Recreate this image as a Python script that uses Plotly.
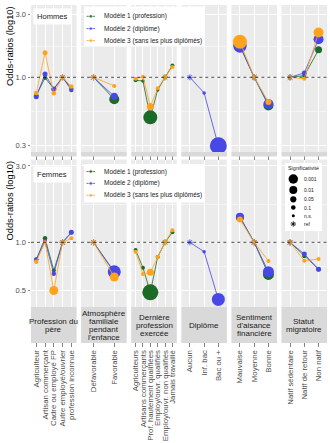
import plotly.graph_objects as go

W, H = 330, 443

PANELS = ["Profession du<br>père", "Atmosphère<br>familiale<br>pendant<br>l'enfance",
          "Dernière<br>profession<br>exercée", "Diplôme",
          "Sentiment<br>d'aisance<br>financière", "Statut<br>migratoire"]

CATS = [
    ["Agriculteur", "Artisan commerçant", "Cadre ou employé FP", "Autre employé/ouvrier", "profession inconnue"],
    ["Défavorable", "Favorable"],
    ["Agriculteurs", "Artisans commerçants", "Prof. hautement qualifiées", "Employ/ouvr. qualifiés",
     "Employ/ouvr. non qualifiés", "Jamais travaillé"],
    ["Aucun", "Inf. bac", "Bac ou +"],
    ["Mauvaise", "Moyenne", "Bonne"],
    ["Natif sédentaire", "Natif de retour", "Non natif"],
]

MODELS = ["Modèle 1 (profession)", "Modèle 2 (diplôme)", "Modèle 3 (sans les plus diplômés)"]
COLORS = ["#1B6B26", "#4848E6", "#FFA21C"]

# Odds ratios - Hommes (None = model not estimated for this block)
HOM_M1 = [[0.73, 0.99, 0.82, 1.00, 0.82], [1.00, 0.68], [0.95, 0.937, 0.495, 0.80, 1.00, 1.23], None,
          [1.75, 1.00, 0.61], [1.00, 1.03, 1.62]]
HOM_M2 = [[0.71, 1.06, 0.81, 1.00, 0.80], [1.00, 0.716], None, [1.00, 0.76, 0.30],
          [1.73, 1.00, 0.625], [1.00, 1.08, 1.95]]
HOM_M3 = [[0.76, 1.54, 0.755, 1.00, 0.85], [1.00, 0.86], [0.975, 1.01, 0.60, 0.824, 1.00, 1.20], None,
          [1.87, 1.00, 0.647], [1.00, 0.975, 2.20]]
# Significance score (larger = more significant), None = reference category
HOM_S1 = [[2, 1.5, 1.5, None, 1.5], [None, 7.5], [1.5, 1, 11.5, 1, None, 1.5], None,
          [10.5, None, 7.5], [None, 1.5, 4.5]]
HOM_S2 = [[2.5, 2.5, 2.5, None, 2], [None, 4.5], None, [None, 1, 14.5],
          [10.5, None, 7.5], [None, 2.5, 7.5]]
HOM_S3 = [[2, 2.5, 2, None, 2], [None, 1.5], [1.5, 1.5, 4.5, 1.5, None, 1.5], None,
          [11.5, None, 3.5], [None, 1.5, 7.5]]

# Odds ratios - Femmes
FEM_M1 = [[0.78, 1.06, 0.668, 1.00, 1.15], [1.00, 0.65], [0.895, 0.694, 0.487, 0.81, 1.00, 1.155], None,
          [1.43, 1.00, 0.63], [1.00, 0.82, 0.68]]
FEM_M2 = [[0.78, 1.02, 0.637, 1.00, 1.155], [1.00, 0.655], None, [1.00, 0.874, 0.44],
          [1.445, 1.00, 0.655], [1.00, 0.845, 0.678]]
FEM_M3 = [[0.757, 1.00, 0.50, 1.00, 1.06], [1.00, 0.607], [0.874, 0.634, 0.65, 0.81, 1.00, 1.19], None,
          [1.39, 1.00, 0.764], [1.00, 0.767, 0.787]]
FEM_S1 = [[1.5, 2, 1.5, None, 1.5], [None, 9.5], [1.5, 1.5, 13.5, 1.5, None, 1.5], None,
          [5.5, None, 8.5], [None, 1.5, 2]]
FEM_S2 = [[2, 1.5, 2, None, 2.5], [None, 10.5], None, [None, 1, 10.5],
          [5.5, None, 8.5], [None, 2.5, 2.5]]
FEM_S3 = [[2, 1.5, 6.5, None, 1.5], [None, 6.5], [1.5, 1.5, 4.5, 1.5, None, 1.5], None,
          [3.5, None, 1.5], [None, 1.5, 1.5]]

ROW_LABELS = ["Hommes", "Femmes"]
SIG_LABELS = ["0.001", "0.01", "0.05", "0.1", "n.s.", "ref"]
SIG_SIZES = [9.5, 8, 6.2, 4.6, 3, 4.5]

VALS = [[HOM_M1, HOM_M2, HOM_M3], [FEM_M1, FEM_M2, FEM_M3]]
SIGS = [[HOM_S1, HOM_S2, HOM_S3], [FEM_S1, FEM_S2, FEM_S3]]

FONT = "Liberation Sans, Arial, sans-serif"
TXT = "#1A1A1A"
TICKC = "#4D4D4D"

# ---------- layout geometry (pixels) ----------
PX0, PW, PSTEP = 31.0, 45.6, 50.1
ROWS = [
    dict(top=5.0, bot=152.0, rng=[-0.570, 0.552], ticks=[0.3, 1, 3], txt=["0.3", "1.0", "3.0"],
         minor=[0.548, 1.732], strip=(152.0, 156.5), ticklen=6.5),
    dict(top=159.5, bot=307.0, rng=[-0.404, 0.5175], ticks=[0.5, 1, 3], txt=["0.5", "1.0", "3.0"],
         minor=[0.707, 1.732], strip=(307.0, 343.0), ticklen=39),
]


def fy(p):
    return 1 - p / H


def fx(p):
    return p / W


fig = go.Figure()
layout = dict(width=W, height=H, margin=dict(l=0, r=0, t=0, b=0), paper_bgcolor="white",
              plot_bgcolor="rgba(0,0,0,0)", showlegend=False, font=dict(family=FONT, color=TXT))
shapes = []
annotations = []


def aid(k):
    return "" if k == 1 else str(k)


for r, row in enumerate(ROWS):
    lo, hi = row["rng"]
    d0, d1 = fy(row["bot"]), fy(row["top"])
    y_ref = d0 + (0 - lo) / (hi - lo) * (d1 - d0)   # paper position of OR = 1 (log10 = 0)
    for c in range(6):
        k = r * 6 + c + 1
        x0 = PX0 + c * PSTEP
        n = len(CATS[c])
        layout["xaxis" + aid(k)] = dict(
            domain=[fx(x0), fx(x0 + PW)], anchor="y" + aid(k), type="category",
            categoryorder="array", categoryarray=CATS[c], range=[-0.6, n - 0.4],
            tickmode="array", tickvals=CATS[c], ticktext=CATS[c],
            showgrid=True, gridcolor="white", gridwidth=1, zeroline=False, showline=False,
            ticks="outside", ticklen=row["ticklen"], tickwidth=0.6, tickcolor="#333333",
            showticklabels=(r == 1), tickangle=-90, tickfont=dict(size=7.8, color=TICKC, family=FONT),
            fixedrange=True)
        layout["yaxis" + aid(k)] = dict(
            domain=[d0, d1], anchor="x" + aid(k), type="log",
            range=row["rng"], tickmode="array", tickvals=row["ticks"], ticktext=row["txt"],
            showgrid=True, gridcolor="white", gridwidth=1, zeroline=False, showline=False,
            minor=dict(tickmode="array", tickvals=row["minor"], showgrid=True, gridcolor="white",
                       gridwidth=0.5, ticks=""),
            ticks="outside" if c == 0 else "", ticklen=2.5, tickwidth=0.6, tickcolor="#333333",
            showticklabels=(c == 0), tickfont=dict(size=7.5, color=TICKC, family=FONT),
            fixedrange=True)
        # panel background (paper coords, lowest layer)
        shapes.append(dict(type="rect", xref="paper", yref="paper", x0=fx(x0), x1=fx(x0 + PW),
                           y0=d0, y1=d1, fillcolor="#EBEBEB",
                           line=dict(width=0), layer="below"))
        # reference line at OR = 1
        shapes.append(dict(type="line", xref="paper", yref="paper",
                           x0=fx(x0), x1=fx(x0 + PW), y0=y_ref, y1=y_ref,
                           line=dict(color="black", width=0.7, dash="3px,3px"), layer="above"))
        # strip
        s0, s1 = row["strip"]
        shapes.append(dict(type="rect", xref="paper", yref="paper", x0=fx(x0), x1=fx(x0 + PW),
                           y0=fy(s1), y1=fy(s0), fillcolor="#D9D9D9", line=dict(width=0), layer="above"))

# ---------- data traces ----------
for m in range(3):
    for r in range(2):
        for c in range(6):
            v = VALS[r][m][c]
            if v is None:
                continue
            s = SIGS[r][m][c]
            k = r * 6 + c + 1
            sizes = [5 if si is None else 2.5 + si for si in s]
            symbols = ["asterisk-open" if si is None else "circle" for si in s]
            lws = [0.9 if si is None else 0 for si in s]
            fig.add_trace(go.Scatter(
                x=CATS[c], y=v, xaxis="x" + aid(k), yaxis="y" + aid(k), mode="lines+markers",
                line=dict(color=COLORS[m], width=0.8),
                marker=dict(size=sizes, symbol=symbols, color=COLORS[m],
                            line=dict(width=lws, color=COLORS[m]), opacity=1),
                hoverinfo="skip", name=MODELS[m]))

# ---------- overlay axes in pixel coordinates for legends ----------
layout["xaxis13"] = dict(domain=[0, 1], range=[0, W], visible=False, fixedrange=True, anchor="y13")
layout["yaxis13"] = dict(domain=[0, 1], range=[H, 0], visible=False, fixedrange=True, anchor="x13")


def box(x0, x1, y0, y1):
    fig.add_trace(go.Scatter(x=[x0, x1, x1, x0, x0], y=[y0, y0, y1, y1, y0], fill="toself",
                             fillcolor="white", mode="lines", line=dict(width=0, color="white"),
                             xaxis="x13", yaxis="y13", hoverinfo="skip"))


for r, (by0, by1, ys) in enumerate([(6.5, 46.0, [16.3, 28.6, 40.6]), (164.0, 202.5, [171.5, 183.4, 195.3])]):
    box(84.0, 204.5, by0, by1)
    for m in range(3):
        fig.add_trace(go.Scatter(x=[86.5, 90.8, 95.0], y=[ys[m]] * 3, mode="lines+markers",
                                 line=dict(color=COLORS[m], width=0.8),
                                 marker=dict(size=[0, 3.8, 0], color=COLORS[m]),
                                 xaxis="x13", yaxis="y13", hoverinfo="skip"))
        annotations.append(dict(x=101.5, y=ys[m], xref="x13", yref="y13", text=MODELS[m], showarrow=False,
                                xanchor="left", yanchor="middle", font=dict(size=6.5, color=TXT, family=FONT)))

# significance legend
box(285.0, 322.0, 163.0, 231.0)
annotations.append(dict(x=303.5, y=168.0, xref="x13", yref="y13", text="Significativité", showarrow=False,
                        xanchor="center", yanchor="middle", font=dict(size=5.3, color=TXT, family=FONT)))
sig_y = [179.0, 190.0, 199.3, 207.5, 215.8, 224.0]
for i, lab in enumerate(SIG_LABELS):
    sym = "asterisk-open" if lab == "ref" else "circle"
    fig.add_trace(go.Scatter(x=[293.3], y=[sig_y[i]], mode="markers",
                             marker=dict(size=SIG_SIZES[i], symbol=sym, color="black",
                                         line=dict(width=0.8 if lab == "ref" else 0, color="black")),
                             xaxis="x13", yaxis="y13", hoverinfo="skip"))
    annotations.append(dict(x=301.5, y=sig_y[i], xref="x13", yref="y13", text=lab, showarrow=False,
                            xanchor="left", yanchor="middle", font=dict(size=5, color=TXT, family=FONT)))

# row labels
for r, (cx, cy) in enumerate([(52.5, 16.3), (52.3, 174.5)]):
    annotations.append(dict(x=cx, y=cy, xref="x13", yref="y13", text=ROW_LABELS[r], showarrow=False,
                            xanchor="center", yanchor="middle", bgcolor="white", borderpad=3,
                            font=dict(size=7.6, color=TXT, family=FONT)))

# y axis titles
for cy in [46.5, 201.0]:
    annotations.append(dict(x=9.5, y=cy, xref="x13", yref="y13", text="Odds-ratios (log10)", showarrow=False,
                            textangle=-90, xanchor="center", yanchor="middle",
                            font=dict(size=9.3, color="#000000", family=FONT)))

# strip labels (line by line to control line spacing)
for c, lab in enumerate(PANELS):
    lines = lab.split("<br>")
    cx = PX0 + c * PSTEP + PW / 2
    sp = 7.8
    start = 325.3 - sp * (len(lines) - 1) / 2
    for j, ln in enumerate(lines):
        annotations.append(dict(x=cx, y=start + j * sp, xref="x13", yref="y13", text=ln, showarrow=False,
                                xanchor="center", yanchor="middle", font=dict(size=8, color=TXT, family=FONT)))

layout["shapes"] = shapes
layout["annotations"] = annotations
fig.update_layout(**layout)
fig.write_html("out.html", config=dict(displayModeBar=False, staticPlot=True))
